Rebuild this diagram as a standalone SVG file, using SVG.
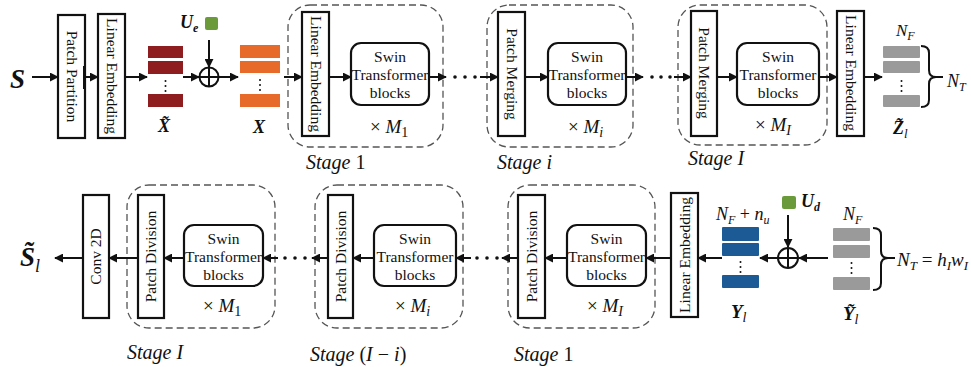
<svg xmlns="http://www.w3.org/2000/svg" width="971" height="367" viewBox="0 0 971 367">
<defs>
<marker id="ah" viewBox="0 0 10 10" refX="9" refY="5" markerWidth="9" markerHeight="9" markerUnits="userSpaceOnUse" orient="auto"><path d="M0,0 L10,5 L0,10 Z" fill="#111"/></marker>
<style>
.box{fill:#fff;stroke:#111;stroke-width:2.2}
.swin{fill:#fff;stroke:#111;stroke-width:2.2}
.stage{fill:none;stroke:#555;stroke-width:1.3;stroke-dasharray:7,4}
.t{font-family:"Liberation Serif","Times New Roman",serif;font-size:15.5px;fill:#111;text-anchor:middle}
.m{font-family:"Liberation Serif","Times New Roman",serif;font-style:italic;fill:#111}
.b{font-family:"Liberation Serif","Times New Roman",serif;font-style:italic;font-weight:bold;fill:#111}
.c line{stroke:#111;stroke-width:2}
.bar{stroke:#111;stroke-width:4.5}
.dot{fill:#111}
</style>
</defs>

<!-- top row nodes -->
<g id="patch-partition"><rect class="box" x="58" y="15" width="27" height="123"/><text class="t" transform="translate(71.5,76.5) rotate(90)" dy="5">Patch Partition</text></g>
<g id="linear-embedding-1"><rect class="box" x="98" y="14" width="27" height="124"/><text class="t" transform="translate(111.5,76) rotate(90)" dy="5">Linear Embedding</text></g>

<g id="x-tilde">
<rect x="148" y="46" width="35" height="12" fill="#8e1d1f"/>
<rect x="148" y="61" width="35" height="13" fill="#8e1d1f"/>
<circle class="dot" cx="165.5" cy="81" r="1"/><circle class="dot" cx="165.5" cy="86" r="1"/><circle class="dot" cx="165.5" cy="91" r="1"/>
<rect x="148" y="94" width="35" height="13" fill="#8e1d1f"/>
<text class="b" x="158" y="132" font-size="18">X̃</text>
</g>

<g id="ue"><rect x="205" y="17" width="13" height="13" rx="2" fill="#6a9a3a"/><text class="b" x="180" y="28" font-size="18">U<tspan font-size="12" dy="4">e</tspan></text></g>
<g id="add-top"><circle cx="209" cy="77" r="9.5" fill="#fff" stroke="#111" stroke-width="2"/><line x1="199.5" y1="77" x2="218.5" y2="77" stroke="#111" stroke-width="2"/><line x1="209" y1="67.5" x2="209" y2="86.5" stroke="#111" stroke-width="2"/></g>

<g id="x">
<rect x="240" y="45" width="40" height="13" fill="#e86a2a"/>
<rect x="240" y="61" width="40" height="12" fill="#e86a2a"/>
<circle class="dot" cx="260" cy="80" r="1"/><circle class="dot" cx="260" cy="85" r="1"/><circle class="dot" cx="260" cy="90" r="1"/>
<rect x="240" y="94" width="40" height="13" fill="#e86a2a"/>
<text class="b" x="253" y="133" font-size="18">X</text>
</g>

<g id="stage-1-top">
<rect class="stage" x="288" y="5" width="155" height="142" rx="22"/>
<rect class="box" x="302" y="12" width="27" height="124"/><text class="t" transform="translate(315.5,74) rotate(90)" dy="5">Linear Embedding</text>
<rect class="swin" x="351" y="43" width="78" height="62" rx="10"/>
<text class="t" x="390" y="62">Swin</text><text class="t" x="390" y="80">Transformer</text><text class="t" x="390" y="98">blocks</text>
<text class="m" x="370" y="133" font-size="19"><tspan font-style="normal">×</tspan> M<tspan font-size="14" dy="4" font-style="normal">1</tspan></text>
<text class="m" x="306" y="169" font-size="20">Stage <tspan font-style="normal">1</tspan></text>
</g>

<g id="stage-i-top">
<rect class="stage" x="487" y="5" width="146" height="142" rx="22"/>
<rect class="box" x="498" y="12" width="27" height="124"/><text class="t" transform="translate(511.5,74) rotate(90)" dy="5">Patch Merging</text>
<rect class="swin" x="548" y="43" width="78" height="62" rx="10"/>
<text class="t" x="587" y="62">Swin</text><text class="t" x="587" y="80">Transformer</text><text class="t" x="587" y="98">blocks</text>
<text class="m" x="568" y="133" font-size="19"><tspan font-style="normal">×</tspan> M<tspan font-size="14" dy="4">i</tspan></text>
<text class="m" x="497" y="169" font-size="20">Stage i</text>
</g>

<g id="stage-I-top">
<rect class="stage" x="678" y="5" width="149" height="140" rx="22"/>
<rect class="box" x="691" y="11" width="26" height="125"/><text class="t" transform="translate(704,73) rotate(90)" dy="5">Patch Merging</text>
<rect class="swin" x="737" y="43" width="82" height="62" rx="10"/>
<text class="t" x="778" y="62">Swin</text><text class="t" x="778" y="80">Transformer</text><text class="t" x="778" y="98">blocks</text>
<text class="m" x="755" y="131" font-size="19"><tspan font-style="normal">×</tspan> M<tspan font-size="14" dy="4">I</tspan></text>
<text class="m" x="688" y="165" font-size="20">Stage I</text>
</g>

<g id="linear-embedding-out"><rect class="box" x="837" y="11" width="27" height="125"/><text class="t" transform="translate(850.5,73) rotate(90)" dy="5">Linear Embedding</text></g>

<g id="z-tilde">
<rect x="883" y="46" width="37" height="12" rx="1" fill="#9a9a9a"/>
<rect x="883" y="61" width="37" height="12" rx="1" fill="#9a9a9a"/>
<circle class="dot" cx="901.5" cy="81" r="1"/><circle class="dot" cx="901.5" cy="86" r="1"/><circle class="dot" cx="901.5" cy="91" r="1"/>
<rect x="883" y="95" width="37" height="12" rx="1" fill="#9a9a9a"/>
<path d="M921,46 Q929,46 929,53 L929,70 Q929,77 936,77 Q929,77 929,84 L929,100 Q929,107 921,107" fill="none" stroke="#111" stroke-width="2"/>
<line x1="936" y1="77" x2="943" y2="77" stroke="#111" stroke-width="2"/>
<text class="m" x="896" y="36" font-size="17">N<tspan font-size="12" dy="4">F</tspan></text>
<text class="m" x="947" y="87" font-size="18">N<tspan font-size="12" dy="4">T</tspan></text>
<text class="b" x="893" y="134" font-size="18">Z̃<tspan font-size="13" dy="4" font-weight="normal">l</tspan></text>
</g>

<text class="b" x="10" y="88" font-size="27">S</text>

<!-- bottom row nodes -->
<g id="conv2d"><rect class="box" x="83" y="195" width="26" height="123"/><text class="t" transform="translate(96,256.5) rotate(-90)" dy="5">Conv 2D</text></g>

<g id="stage-I-bottom">
<rect class="stage" x="127" y="185" width="148" height="143" rx="22"/>
<rect class="box" x="138" y="195" width="26" height="123"/><text class="t" transform="translate(151,256.5) rotate(-90)" dy="5">Patch Division</text>
<rect class="swin" x="184" y="225" width="79" height="61" rx="10"/>
<text class="t" x="223.5" y="244">Swin</text><text class="t" x="223.5" y="262">Transformer</text><text class="t" x="223.5" y="280">blocks</text>
<text class="m" x="203" y="312" font-size="19"><tspan font-style="normal">×</tspan> M<tspan font-size="14" dy="4" font-style="normal">1</tspan></text>
<text class="m" x="127" y="359" font-size="20">Stage I</text>
</g>

<g id="stage-I-i-bottom">
<rect class="stage" x="315" y="185" width="148" height="143" rx="22"/>
<rect class="box" x="328" y="195" width="25" height="123"/><text class="t" transform="translate(340.5,256.5) rotate(-90)" dy="5">Patch Division</text>
<rect class="swin" x="374" y="225" width="82" height="61" rx="10"/>
<text class="t" x="415" y="244">Swin</text><text class="t" x="415" y="262">Transformer</text><text class="t" x="415" y="280">blocks</text>
<text class="m" x="395" y="312" font-size="19"><tspan font-style="normal">×</tspan> M<tspan font-size="14" dy="4">i</tspan></text>
<text class="m" x="310" y="361" font-size="20">Stage <tspan font-style="normal">(</tspan>I <tspan font-style="normal">− </tspan>i<tspan font-style="normal">)</tspan></text>
</g>

<g id="stage-1-bottom">
<rect class="stage" x="508" y="185" width="147" height="143" rx="22"/>
<rect class="box" x="518" y="195" width="27" height="123"/><text class="t" transform="translate(531.5,256.5) rotate(-90)" dy="5">Patch Division</text>
<rect class="swin" x="567" y="225" width="79" height="61" rx="10"/>
<text class="t" x="606.5" y="244">Swin</text><text class="t" x="606.5" y="262">Transformer</text><text class="t" x="606.5" y="280">blocks</text>
<text class="m" x="587" y="312" font-size="19"><tspan font-style="normal">×</tspan> M<tspan font-size="14" dy="4">I</tspan></text>
<text class="m" x="514" y="361" font-size="20">Stage <tspan font-style="normal">1</tspan></text>
</g>

<g id="linear-embedding-bottom"><rect class="box" x="671" y="193" width="27" height="124"/><text class="t" transform="translate(684.5,255) rotate(-90)" dy="5">Linear Embedding</text></g>

<g id="y">
<rect x="722" y="227" width="37" height="14" rx="1" fill="#1c5a96"/>
<rect x="722" y="243" width="37" height="13" rx="1" fill="#1c5a96"/>
<circle class="dot" cx="740.5" cy="262" r="1"/><circle class="dot" cx="740.5" cy="267" r="1"/><circle class="dot" cx="740.5" cy="272" r="1"/>
<rect x="722" y="275" width="37" height="13" rx="1" fill="#1c5a96"/>
<text class="m" x="716" y="220" font-size="18">N<tspan font-size="12" dy="4">F</tspan><tspan dy="-4" font-style="normal"> + </tspan>n<tspan font-size="12" dy="4">u</tspan></text>
<text class="b" x="731" y="318" font-size="19">Y<tspan font-size="14" dy="4" font-weight="normal">l</tspan></text>
</g>

<g id="ud"><rect x="782" y="196" width="14" height="13" rx="2" fill="#6a9a3a"/><text class="b" x="801" y="207" font-size="18">U<tspan font-size="12" dy="4">d</tspan></text></g>
<g id="add-bottom"><circle cx="788" cy="258" r="10" fill="#fff" stroke="#111" stroke-width="2"/><line x1="778" y1="258" x2="798" y2="258" stroke="#111" stroke-width="2"/><line x1="788" y1="248" x2="788" y2="268" stroke="#111" stroke-width="2"/></g>

<g id="y-tilde">
<rect x="833" y="228" width="37" height="13" rx="1" fill="#9a9a9a"/>
<rect x="833" y="245" width="37" height="13" rx="1" fill="#9a9a9a"/>
<circle class="dot" cx="851.5" cy="263" r="1"/><circle class="dot" cx="851.5" cy="268" r="1"/><circle class="dot" cx="851.5" cy="273" r="1"/>
<rect x="833" y="277" width="37" height="13" rx="1" fill="#9a9a9a"/>
<path d="M873,228 Q881,228 881,235 L881,251 Q881,258 888,258 Q881,258 881,265 L881,283 Q881,290 873,290" fill="none" stroke="#111" stroke-width="2"/>
<line x1="888" y1="258" x2="895" y2="258" stroke="#111" stroke-width="2"/>
<text class="m" x="897" y="266" font-size="19">N<tspan font-size="13" dy="4">T</tspan><tspan dy="-4" font-style="normal"> = </tspan>h<tspan font-size="13" dy="4">I</tspan><tspan dy="-4">w</tspan><tspan font-size="13" dy="4">I</tspan></text>
<text class="m" x="843" y="220" font-size="18">N<tspan font-size="12" dy="4">F</tspan></text>
<text class="b" x="843" y="320" font-size="19">Ỹ<tspan font-size="14" dy="4" font-weight="normal">l</tspan></text>
</g>

<text class="b" x="20" y="266" font-size="27">S̃<tspan font-size="18" dy="6" font-weight="normal">l</tspan></text>

<!-- connectors -->
<g id="connectors" class="c">
<line x1="32" y1="77" x2="58" y2="77" marker-end="url(#ah)"/>
<line x1="85" y1="77" x2="98" y2="77" marker-end="url(#ah)"/>
<line x1="125" y1="77" x2="147" y2="77" marker-end="url(#ah)"/>
<line x1="183" y1="77" x2="199" y2="77" marker-end="url(#ah)"/>
<line x1="209" y1="40" x2="209" y2="67" marker-end="url(#ah)"/>
<line x1="219" y1="77" x2="238" y2="77" marker-end="url(#ah)"/>
<line x1="284" y1="77" x2="302" y2="77" marker-end="url(#ah)"/>
<line x1="329" y1="77" x2="351" y2="77" marker-end="url(#ah)"/>
<line x1="429" y1="77" x2="446" y2="77" marker-end="url(#ah)"/>
<line x1="480" y1="77" x2="498" y2="77" marker-end="url(#ah)"/>
<line x1="525" y1="77" x2="548" y2="77" marker-end="url(#ah)"/>
<line x1="626" y1="77" x2="643" y2="77" marker-end="url(#ah)"/>
<line x1="674" y1="77" x2="691" y2="77" marker-end="url(#ah)"/>
<line x1="717" y1="77" x2="737" y2="77" marker-end="url(#ah)"/>
<line x1="819" y1="77" x2="837" y2="77" marker-end="url(#ah)"/>
<line x1="864" y1="77" x2="882" y2="77" marker-end="url(#ah)"/>
<circle class="dot" cx="455" cy="77" r="1.8"/><circle class="dot" cx="465" cy="77" r="1.8"/><circle class="dot" cx="475" cy="77" r="1.8"/>
<circle class="dot" cx="652" cy="77" r="1.8"/><circle class="dot" cx="661" cy="77" r="1.8"/><circle class="dot" cx="670" cy="77" r="1.8"/>

<line x1="828" y1="258" x2="799" y2="258" marker-end="url(#ah)"/>
<line x1="788" y1="215" x2="788" y2="247" marker-end="url(#ah)"/>
<line x1="778" y1="258" x2="760" y2="258" marker-end="url(#ah)"/>
<line x1="722" y1="258" x2="698" y2="258" marker-end="url(#ah)"/>
<line x1="671" y1="258" x2="646" y2="258" marker-end="url(#ah)"/>
<line x1="567" y1="258" x2="545" y2="258" marker-end="url(#ah)"/>
<line x1="518" y1="258" x2="502" y2="258" marker-end="url(#ah)"/>
<line x1="471" y1="258" x2="456" y2="258" marker-end="url(#ah)"/>
<line x1="374" y1="258" x2="353" y2="258" marker-end="url(#ah)"/>
<line x1="328" y1="258" x2="312" y2="258" marker-end="url(#ah)"/>
<line x1="278" y1="258" x2="263" y2="258" marker-end="url(#ah)"/>
<line x1="184" y1="258" x2="164" y2="258" marker-end="url(#ah)"/>
<line x1="138" y1="258" x2="109" y2="258" marker-end="url(#ah)"/>
<line x1="83" y1="258" x2="55" y2="258" marker-end="url(#ah)"/>
<circle class="dot" cx="477" cy="258" r="1.8"/><circle class="dot" cx="487" cy="258" r="1.8"/><circle class="dot" cx="497" cy="258" r="1.8"/>
<circle class="dot" cx="285" cy="258" r="1.8"/><circle class="dot" cx="295" cy="258" r="1.8"/><circle class="dot" cx="305" cy="258" r="1.8"/>

<line class="bar" x1="84" y1="66" x2="84" y2="89"/>
<line class="bar" x1="98" y1="66" x2="98" y2="89"/>
<line class="bar" x1="329" y1="65" x2="329" y2="89"/>
<line class="bar" x1="498" y1="65" x2="498" y2="89"/>
<line class="bar" x1="525" y1="65" x2="525" y2="89"/>
<line class="bar" x1="691" y1="65" x2="691" y2="89"/>
<line class="bar" x1="864" y1="65" x2="864" y2="89"/>
<line class="bar" x1="671" y1="246" x2="671" y2="271"/>
<line class="bar" x1="518" y1="246" x2="518" y2="270"/>
<line class="bar" x1="328" y1="246" x2="328" y2="270"/>
</g>
</svg>
